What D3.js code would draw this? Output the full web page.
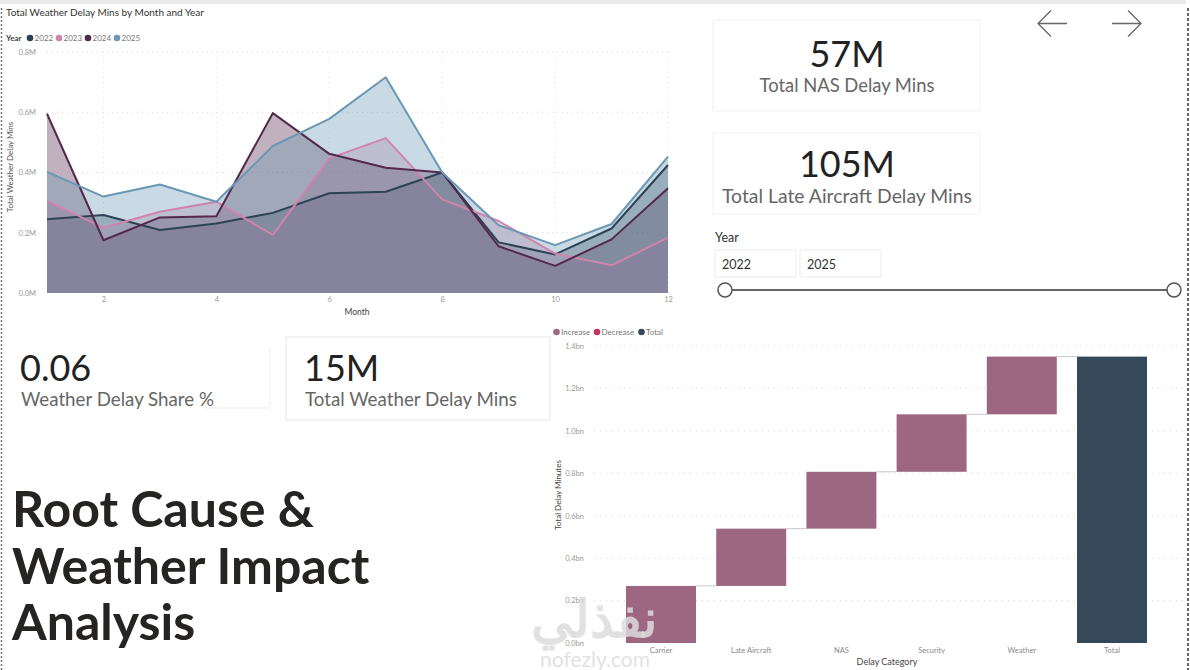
<!DOCTYPE html>
<html>
<head>
<meta charset="utf-8">
<script src="https://cdn.jsdelivr.net/npm/d3@7"></script>
<style>
  html, body { margin: 0; padding: 0; background: #ffffff; }
  svg { display: block; }
  text { font-family: Lato, "Open Sans", sans-serif; }
</style>
</head>
<body>
<svg id="chart" width="1190" height="670"></svg>
<script>
// ---------------- DATA ----------------
const months = [1, 2, 3, 4, 5, 6, 7, 8, 9, 10, 11, 12];
const years = ["2022", "2023", "2024", "2025"];
// Total weather delay minutes (millions) by month
const weather2022 = [0.245, 0.259, 0.209, 0.231, 0.266, 0.331, 0.336, 0.400, 0.168, 0.128, 0.214, 0.425];
const weather2023 = [0.306, 0.217, 0.270, 0.303, 0.193, 0.447, 0.514, 0.311, 0.239, 0.131, 0.092, 0.184];
const weather2024 = [0.595, 0.175, 0.251, 0.255, 0.597, 0.462, 0.416, 0.400, 0.155, 0.090, 0.178, 0.348];
const weather2025 = [0.402, 0.320, 0.360, 0.303, 0.488, 0.578, 0.716, 0.400, 0.225, 0.159, 0.229, 0.453];
const areaYTicks = [0, 0.2, 0.4, 0.6, 0.8];
const areaXTicks = [2, 4, 6, 8, 10, 12];

// Waterfall: delay minutes (billions) by category
const delayCategories = ["Carrier", "Late Aircraft", "NAS", "Security", "Weather"];
const delayIncrements = [0.269, 0.270, 0.268, 0.271, 0.272];
const totalLabel = "Total";
const wfYTicks = [0, 0.2, 0.4, 0.6, 0.8, 1.0, 1.2, 1.4];
const wfLegend = ["Increase", "Decrease", "Total"];

// KPI cards
const kpiNasValue = "57M", kpiNasLabel = "Total NAS Delay Mins";
const kpiLateValue = "105M", kpiLateLabel = "Total Late Aircraft Delay Mins";
const kpiShareValue = "0.06", kpiShareLabel = "Weather Delay Share %";
const kpiWeatherValue = "15M", kpiWeatherLabel = "Total Weather Delay Mins";
const sliderYears = ["2022", "2025"];
const pageTitle = ["Root Cause &", "Weather Impact", "Analysis"];

// ---------------- STYLE ----------------
const yearColors = { "2022": "#2e4256", "2023": "#d084ab", "2024": "#52284c", "2025": "#6a98b4" };
const wfColors = { "Increase": "#9d6681", "Decrease": "#c2345f", "Total": "#35495a" };

const svg = d3.select("#chart");

// page frame
svg.append("rect").attr("x", 0).attr("y", 0).attr("width", 1186).attr("height", 4).attr("fill", "#e9e9e9");
svg.append("line").attr("x1", 1.5).attr("x2", 1.5).attr("y1", 8).attr("y2", 670)
  .attr("stroke", "#777").attr("stroke-width", 1.5).attr("stroke-dasharray", "2,2");
svg.append("line").attr("x1", 1188).attr("x2", 1188).attr("y1", 8).attr("y2", 670)
  .attr("stroke", "#666").attr("stroke-width", 2).attr("stroke-dasharray", "3,2");

// ---------------- AREA CHART ----------------
const series = {
  "2022": weather2022, "2023": weather2023, "2024": weather2024, "2025": weather2025
};
const xA = d3.scaleLinear().domain([1, 12]).range([47, 668]);
const yA = d3.scaleLinear().domain([0, 0.8]).range([293, 52]);

svg.append("text").attr("x", 6).attr("y", 16).attr("font-size", 10).attr("fill", "#333")
  .text("Total Weather Delay Mins by Month and Year");

// legend
const lg = svg.append("g");
lg.append("text").attr("x", 6).attr("y", 41).attr("font-size", 8).attr("font-weight", "bold").attr("fill", "#444").text("Year");
years.forEach((y, i) => {
  const cx = 30 + i * 29;
  lg.append("circle").attr("cx", cx).attr("cy", 38).attr("r", 3.3).attr("fill", yearColors[y]);
  lg.append("text").attr("x", cx + 4.5).attr("y", 41).attr("font-size", 8).attr("fill", "#777").text(y);
});

// gridlines
const gA = svg.append("g");
gA.selectAll("line.h").data(areaYTicks.filter(d => d > 0)).join("line")
  .attr("x1", 47).attr("x2", 668).attr("y1", d => yA(d)).attr("y2", d => yA(d))
  .attr("stroke", "#d6d6d6").attr("stroke-width", 1).attr("stroke-dasharray", "1,4");
gA.selectAll("line.v").data(areaXTicks).join("line")
  .attr("x1", d => xA(d)).attr("x2", d => xA(d)).attr("y1", 52).attr("y2", 293)
  .attr("stroke", "#e2e2e2").attr("stroke-width", 1).attr("stroke-dasharray", "1,4");

// axes
const yAxisA = svg.append("g").attr("transform", "translate(36,0)")
  .call(d3.axisLeft(yA).tickValues(areaYTicks).tickFormat(d => d3.format(".1f")(d) + "M").tickSize(0).tickPadding(0));
yAxisA.select(".domain").remove();
yAxisA.selectAll("text").attr("font-size", 7.5).attr("fill", "#9a9a9a").attr("font-family", "Lato, sans-serif");

const xAxisA = svg.append("g").attr("transform", "translate(0,297)")
  .call(d3.axisBottom(xA).tickValues(areaXTicks).tickFormat(d3.format("d")).tickSize(0).tickPadding(0));
xAxisA.select(".domain").remove();
xAxisA.selectAll("text").attr("font-size", 7.5).attr("fill", "#9a9a9a").attr("font-family", "Lato, sans-serif").attr("dy", "0.71em");

svg.append("text").attr("x", 357).attr("y", 315).attr("text-anchor", "middle").attr("font-size", 8.5).attr("fill", "#444").text("Month");
svg.append("text").attr("transform", "translate(13,167) rotate(-90)").attr("text-anchor", "middle")
  .attr("font-size", 8).attr("fill", "#555").text("Total Weather Delay Mins");

const area = d3.area().x((d, i) => xA(months[i])).y0(yA(0)).y1(d => yA(d));
const line = d3.line().x((d, i) => xA(months[i])).y(d => yA(d));

years.forEach(y => {
  svg.append("path").datum(series[y]).attr("d", area)
    .attr("fill", yearColors[y]).attr("fill-opacity", 0.36);
});
years.forEach(y => {
  svg.append("path").datum(series[y]).attr("d", line)
    .attr("fill", "none").attr("stroke", yearColors[y]).attr("stroke-width", 2).attr("stroke-linejoin", "round");
});

// ---------------- KPI CARDS ----------------
function cardBox(x, y, w, h, stroke) {
  svg.append("rect").attr("x", x).attr("y", y).attr("width", w).attr("height", h)
    .attr("fill", "#fff").attr("stroke", stroke).attr("stroke-width", 1);
}
cardBox(713, 20, 267, 91, "#f2f2f2");
cardBox(713, 133, 267, 81, "#f2f2f2");

function fitText(sel, targetW) {
  const w = sel.node().getComputedTextLength();
  const fs = parseFloat(sel.attr("font-size"));
  sel.attr("font-size", fs * targetW / w);
}

svg.append("text").attr("x", 847).attr("y", 67).attr("text-anchor", "middle")
  .attr("font-size", 36).attr("fill", "#222").attr("font-family", "'Open Sans', sans-serif").text(kpiNasValue);
const l1 = svg.append("text").attr("x", 847).attr("y", 92).attr("text-anchor", "middle")
  .attr("font-size", 19).attr("fill", "#666").text(kpiNasLabel);
fitText(l1, 175);
svg.append("text").attr("x", 847).attr("y", 177).attr("text-anchor", "middle")
  .attr("font-size", 36).attr("fill", "#222").attr("font-family", "'Open Sans', sans-serif").text(kpiLateValue);
const l2 = svg.append("text").attr("x", 847).attr("y", 203).attr("text-anchor", "middle")
  .attr("font-size", 19).attr("fill", "#666").text(kpiLateLabel);
fitText(l2, 250);

// share card (right + bottom edge only)
svg.append("line").attr("x1", 270).attr("x2", 270).attr("y1", 348).attr("y2", 408).attr("stroke", "#f0f0f0");
svg.append("line").attr("x1", 205).attr("x2", 270).attr("y1", 408).attr("y2", 408).attr("stroke", "#f0f0f0");
svg.append("text").attr("x", 20).attr("y", 381).attr("font-size", 36).attr("fill", "#222")
  .attr("font-family", "'Open Sans', sans-serif").text(kpiShareValue);
const l3 = svg.append("text").attr("x", 21).attr("y", 406).attr("font-size", 19).attr("fill", "#666").text(kpiShareLabel);
fitText(l3, 193);

cardBox(286, 337, 264, 83, "#e6e6e6");
svg.append("text").attr("x", 304).attr("y", 381).attr("font-size", 36).attr("fill", "#222")
  .attr("font-family", "'Open Sans', sans-serif").text(kpiWeatherValue);
const l4 = svg.append("text").attr("x", 305).attr("y", 406).attr("font-size", 19).attr("fill", "#666").text(kpiWeatherLabel);
fitText(l4, 212);

// navigation arrows
const arrows = svg.append("g").attr("stroke", "#666").attr("stroke-width", 1.3).attr("fill", "none");
arrows.append("path").attr("d", "M1067,23.5 H1038 M1051,10.5 L1038,23.5 L1051,36.5");
arrows.append("path").attr("d", "M1112,23.5 H1141 M1128,10.5 L1141,23.5 L1128,36.5");

// year slicer
svg.append("text").attr("x", 715).attr("y", 242).attr("font-size", 12.5).attr("fill", "#333")
  .attr("font-family", "'Open Sans', sans-serif").text("Year");
sliderYears.forEach((y, i) => {
  const bx = 715 + i * 85;
  svg.append("rect").attr("x", bx).attr("y", 250).attr("width", 81).attr("height", 27)
    .attr("fill", "#fff").attr("stroke", "#ececec");
  svg.append("text").attr("x", bx + 7).attr("y", 269).attr("font-size", 12.5).attr("fill", "#333")
    .attr("font-family", "'Open Sans', sans-serif").text(y);
});
const sx = d3.scaleLinear().domain([+sliderYears[0], +sliderYears[1]]).range([725, 1174]);
svg.append("line").attr("x1", sx(+sliderYears[0])).attr("x2", sx(+sliderYears[1])).attr("y1", 290).attr("y2", 290)
  .attr("stroke", "#666").attr("stroke-width", 2);
sliderYears.forEach(y => {
  svg.append("circle").attr("cx", sx(+y)).attr("cy", 290).attr("r", 7)
    .attr("fill", "#fff").attr("stroke", "#555").attr("stroke-width", 1.5);
});

// ---------------- PAGE TITLE ----------------
const titleBaselines = [527, 584, 640];
const titleNodes = pageTitle.map((t, i) =>
  svg.append("text").attr("x", 12).attr("y", titleBaselines[i]).attr("font-size", 50)
    .attr("font-weight", "bold").attr("fill", "#252423").attr("font-family", "Lato, sans-serif").text(t));
fitText(titleNodes[0], 302);
titleNodes.forEach(n => n.attr("font-size", titleNodes[0].attr("font-size")));

// ---------------- WATERFALL ----------------
const wfCats = delayCategories.concat([totalLabel]);
let run = 0;
const wfData = delayCategories.map((c, i) => {
  const d = { cat: c, start: run, end: run + delayIncrements[i], type: "Increase" };
  run += delayIncrements[i];
  return d;
});
wfData.push({ cat: totalLabel, start: 0, end: run, type: "Total" });

const xW = d3.scaleBand().domain(wfCats).range([616, 1157]).paddingInner(0.224).paddingOuter(0.111);
const yW = d3.scaleLinear().domain([0, 1.4]).range([643, 346]);

// legend
const wl = svg.append("g");
[556.5, 597, 641.5].forEach((cx, i) => {
  wl.append("circle").attr("cx", cx).attr("cy", 332).attr("r", 3.3).attr("fill", wfColors[wfLegend[i]]);
  wl.append("text").attr("x", cx + 4.5).attr("y", 335).attr("font-size", 8).attr("fill", "#777").text(wfLegend[i]);
});

svg.append("g").selectAll("line").data(wfYTicks.filter(d => d > 0)).join("line")
  .attr("x1", 594).attr("x2", 1183).attr("y1", d => yW(d)).attr("y2", d => yW(d))
  .attr("stroke", "#d8d8d8").attr("stroke-dasharray", "1,5");

const yAxisW = svg.append("g").attr("transform", "translate(584,0)")
  .call(d3.axisLeft(yW).tickValues(wfYTicks).tickFormat(d => d3.format(".1f")(d) + "bn").tickSize(0).tickPadding(0));
yAxisW.select(".domain").remove();
yAxisW.selectAll("text").attr("font-size", 7.5).attr("fill", "#9a9a9a").attr("font-family", "Lato, sans-serif");

const xAxisW = svg.append("g").attr("transform", "translate(0,648)")
  .call(d3.axisBottom(xW).tickSize(0).tickPadding(0));
xAxisW.select(".domain").remove();
xAxisW.selectAll("text").attr("font-size", 7.5).attr("fill", "#8a8a8a").attr("font-family", "Lato, sans-serif").attr("dy", "0.71em");

svg.append("text").attr("x", 887).attr("y", 665).attr("text-anchor", "middle").attr("font-size", 9).attr("fill", "#444").text("Delay Category");
svg.append("text").attr("transform", "translate(561,495) rotate(-90)").attr("text-anchor", "middle")
  .attr("font-size", 8).attr("fill", "#444").text("Total Delay Minutes");

// connectors
svg.append("g").selectAll("line").data(wfData.slice(0, -1)).join("line")
  .attr("x1", d => xW(d.cat) + xW.bandwidth())
  .attr("x2", (d, i) => xW(wfCats[i + 1]))
  .attr("y1", d => yW(d.end)).attr("y2", d => yW(d.end))
  .attr("stroke", "#c8c8c8").attr("stroke-width", 1);

svg.append("g").selectAll("rect").data(wfData).join("rect")
  .attr("x", d => xW(d.cat)).attr("width", xW.bandwidth())
  .attr("y", d => yW(d.end)).attr("height", d => yW(d.start) - yW(d.end))
  .attr("fill", d => wfColors[d.type]);

// watermark
svg.append("text").attr("x", 594).attr("y", 637).attr("text-anchor", "middle").attr("font-size", 52)
  .attr("font-weight", "bold").attr("fill", "#dcdcdc").attr("fill-opacity", 0.85)
  .attr("font-family", "'DejaVu Sans', sans-serif").text("نفذلي");
svg.append("text").attr("x", 595).attr("y", 667).attr("text-anchor", "middle").attr("font-size", 21)
  .attr("fill", "#dcdcdc").attr("fill-opacity", 0.85).attr("font-family", "'Open Sans', sans-serif").text("nofezly.com");
</script>
</body>
</html>
